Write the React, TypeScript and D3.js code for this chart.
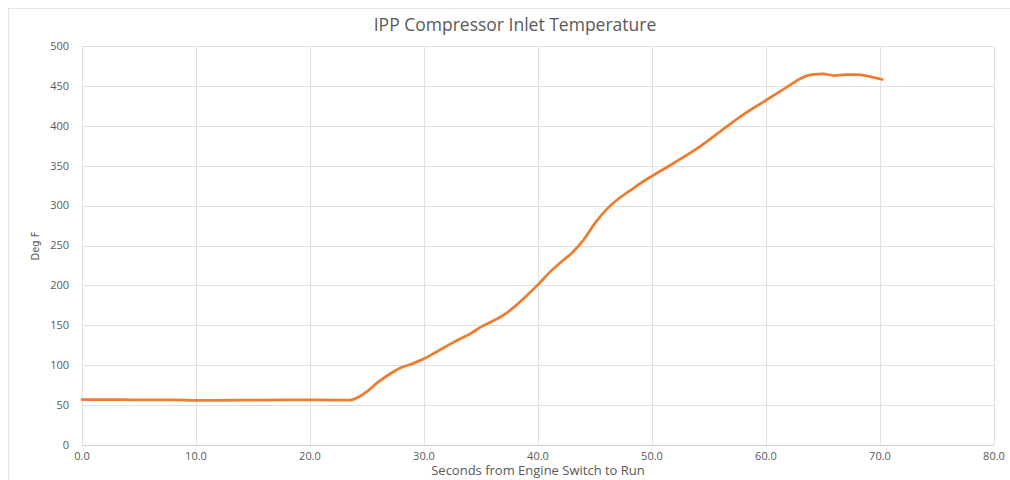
import React, { useEffect, useRef } from "react";
import * as d3 from "d3";

const seconds = [0, 2, 5, 8, 10, 12, 15, 18, 20, 22, 23.5, 24.5, 25, 26, 27, 28, 29, 30, 31, 32, 33, 34, 35, 36, 37, 38, 39, 40, 41, 42, 43, 44, 45, 46, 47, 48, 49, 50, 52, 54, 56, 58, 60, 62, 63, 64, 65, 66, 67, 68, 69, 70.2];
const degF = [57, 57, 56.5, 56.5, 56, 56, 56.3, 56.5, 56.5, 56.3, 56.3, 62, 67, 79, 89, 97, 102, 108, 116, 124, 132, 139, 148, 155, 163, 174, 187, 201, 216, 229, 241, 257, 278, 295, 308, 318, 328, 337, 354, 372, 393, 414, 432, 450, 459, 464, 465, 463, 464, 464, 462, 458];
const xTicks = [0, 10, 20, 30, 40, 50, 60, 70, 80];
const yTicks = [0, 50, 100, 150, 200, 250, 300, 350, 400, 450, 500];
const title = "IPP Compressor Inlet Temperature";
const xTitle = "Seconds from Engine Switch to Run";
const yTitle = "Deg F";

export default function App() {
  const ref = useRef<SVGSVGElement>(null);
  useEffect(() => {
    const svg = d3.select(ref.current);
    svg.selectAll("*").remove();
    const W = 1010, H = 480;
    const x = d3.scaleLinear().domain([0, 80]).range([82, 994]);
    const y = d3.scaleLinear().domain([0, 500]).range([445, 46]);
    const font = "'Open Sans', 'Liberation Sans', sans-serif";

    svg.append("rect").attr("width", W).attr("height", H).attr("fill", "#fff");
    svg.append("rect").attr("x", 8.5).attr("y", 8.5).attr("width", W + 20).attr("height", H + 20)
      .attr("fill", "none").attr("stroke", "#e3e3e3");

    const g = svg.append("g");
    g.selectAll(".hg").data(yTicks).join("line")
      .attr("x1", x(0)).attr("x2", x(80))
      .attr("y1", (d) => Math.round(y(d)) + 0.5).attr("y2", (d) => Math.round(y(d)) + 0.5)
      .attr("stroke", (d) => (d === 0 ? "#d0d0d0" : "#e0e0e0")).attr("stroke-width", 1);
    g.selectAll(".vg").data(xTicks).join("line")
      .attr("y1", y(0)).attr("y2", y(500))
      .attr("x1", (d) => Math.round(x(d)) + 0.5).attr("x2", (d) => Math.round(x(d)) + 0.5)
      .attr("stroke", "#e0e0e0").attr("stroke-width", 1);

    g.selectAll(".yl").data(yTicks).join("text")
      .attr("x", 69).attr("y", (d) => y(d)).attr("dy", "0.35em")
      .attr("text-anchor", "end").attr("font-family", font).attr("font-size", 11)
      .attr("fill", "#595959").text((d) => d3.format("d")(d));
    g.selectAll(".xl").data(xTicks).join("text")
      .attr("x", (d) => x(d)).attr("y", 460)
      .attr("text-anchor", "middle").attr("font-family", font).attr("font-size", 11)
      .attr("fill", "#595959").text((d) => d3.format(".1f")(d));

    svg.append("text").attr("x", 515).attr("y", 31).attr("text-anchor", "middle")
      .attr("font-family", font).attr("font-size", 17.5).attr("fill", "#595959").text(title);
    svg.append("text").attr("x", 538).attr("y", 475).attr("text-anchor", "middle")
      .attr("font-family", font).attr("font-size", 13).attr("fill", "#595959").text(xTitle);
    svg.append("text").attr("transform", "translate(39,246) rotate(-90)").attr("text-anchor", "middle")
      .attr("font-family", "'Liberation Sans Narrow', 'DejaVu Sans Condensed', sans-serif").attr("font-size", 11)
      .attr("fill", "#595959").text(yTitle);

    const data = seconds.map((s, i) => [s, degF[i]] as [number, number]);
    const line = d3.line<[number, number]>().x((d) => x(d[0])).y((d) => y(d[1])).curve(d3.curveMonotoneX);
    svg.append("path").datum(data).attr("d", line).attr("fill", "none")
      .attr("stroke", "#ED7D31").attr("stroke-width", 2.75).attr("stroke-linejoin", "round").attr("stroke-linecap", "round");
  }, []);
  return <svg ref={ref} width={1010} height={480} style={{ position: "absolute", left: 0, top: 0 }} />;
}
